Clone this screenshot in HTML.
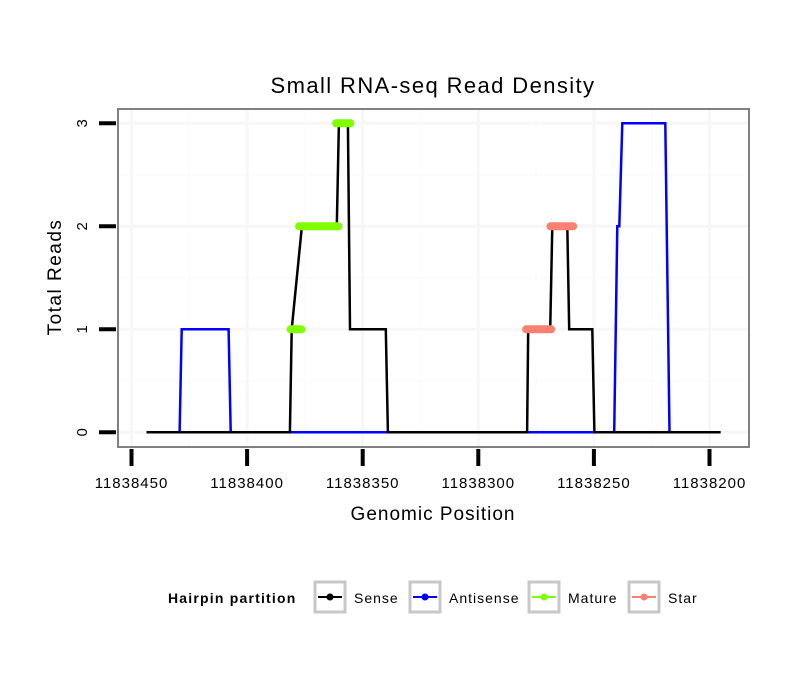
<!DOCTYPE html>
<html><head><meta charset="utf-8"><style>
html,body{margin:0;padding:0;background:#fff;}
svg{display:block;font-family:"Liberation Sans",sans-serif;}
</style></head><body>
<svg id="chart" width="810" height="690" viewBox="0 0 810 690">
<rect x="0" y="0" width="810" height="690" fill="#fff"/>
<text x="433" y="93" font-size="22" letter-spacing="1.4" text-anchor="middle" fill="#000">Small RNA-seq Read Density</text>
<g id="grid"></g>
<g id="series"></g>
<rect x="118" y="109" width="631" height="338" fill="none" stroke="#808080" stroke-width="2"/>
<g id="axes"></g>
<text x="433" y="520" font-size="19" letter-spacing="1" text-anchor="middle">Genomic Position</text>
<text transform="translate(61,277) rotate(-90)" font-size="19" letter-spacing="1.5" text-anchor="middle">Total Reads</text>
<g font-size="14" letter-spacing="1">
<text x="168" y="603" font-weight="bold" letter-spacing="1.2">Hairpin partition</text>
<g><rect x="315" y="582" width="30" height="30" fill="#fff" stroke="#c8c8c8" stroke-width="3"/><line x1="318" y1="597" x2="342" y2="597" stroke="#000" stroke-width="2"/><circle cx="330" cy="597" r="3.5" fill="#000"/><text x="354" y="603">Sense</text></g>
<g><rect x="410" y="582" width="30" height="30" fill="#fff" stroke="#c8c8c8" stroke-width="3"/><line x1="413" y1="597" x2="437" y2="597" stroke="#0000ff" stroke-width="2"/><circle cx="425" cy="597" r="3.5" fill="#0000ff"/><text x="449" y="603">Antisense</text></g>
<g><rect x="529" y="582" width="30" height="30" fill="#fff" stroke="#c8c8c8" stroke-width="3"/><line x1="532" y1="597" x2="556" y2="597" stroke="#7fff00" stroke-width="2"/><circle cx="544" cy="597" r="3.5" fill="#7fff00"/><text x="568" y="603">Mature</text></g>
<g><rect x="629" y="582" width="30" height="30" fill="#fff" stroke="#c8c8c8" stroke-width="3"/><line x1="632" y1="597" x2="656" y2="597" stroke="#fa8072" stroke-width="2"/><circle cx="644" cy="597" r="3.5" fill="#fa8072"/><text x="668" y="603">Star</text></g>
</g>
</svg>
<script>
const xTicks = [11838450, 11838400, 11838350, 11838300, 11838250, 11838200];
const yTicks = [0, 1, 2, 3];
const senseX = [11838443.5, 11838381.5, 11838380.7, 11838376.3, 11838361.2, 11838360.3, 11838356.4, 11838355.5, 11838340, 11838339.1, 11838278.9, 11838278.4, 11838268.9, 11838268, 11838261.5, 11838260.7, 11838250.7, 11838249.8, 11838195.2];
const senseY = [0, 0, 1, 2, 2, 3, 3, 1, 1, 0, 0, 1, 1, 2, 2, 1, 1, 0, 0];
const antiX = [11838443.5, 11838429.2, 11838428.3, 11838408, 11838407.1, 11838241.2, 11838239.9, 11838239, 11838237.7, 11838219.1, 11838217.3, 11838195.2];
const antiY = [0, 0, 1, 1, 0, 0, 2, 2, 3, 3, 0, 0];
const matureStart = [11838381.2, 11838377.5, 11838361.5];
const matureEnd = [11838376.5, 11838360.5, 11838355.3];
const matureY = [1, 2, 3];
const starStart = [11838279.3, 11838268.8];
const starEnd = [11838268.5, 11838259];
const starY = [1, 2];

const NS = "http://www.w3.org/2000/svg";
const X0 = 11838450, X1 = 11838200, PX0 = 131.5, PX1 = 709.5;
function sx(v){ return PX0 + (v - X0) / (X1 - X0) * (PX1 - PX0); }
function sy(v){ return 432.3 - v * (432.3 - 123.3) / 3; }
function mk(tag, attrs, parent){ const e = document.createElementNS(NS, tag); for (const k in attrs) e.setAttribute(k, attrs[k]); parent.appendChild(e); return e; }

const grid = document.getElementById('grid');
const axes = document.getElementById('axes');
const series = document.getElementById('series');
for (let i = 0; i < yTicks.length - 1; i++) {
  const l = mk('line', {x1:119, x2:748, y1:sy(yTicks[i]+0.5), y2:sy(yTicks[i]+0.5), stroke:'#fcfcfc', 'stroke-width':2}, grid);
  
  
}
for (let i = 0; i < xTicks.length - 1; i++) {
  const l = mk('line', {y1:110, y2:446, x1:sx(xTicks[i]-25), x2:sx(xTicks[i]-25), stroke:'#fcfcfc', 'stroke-width':2}, grid);
  
  
}
yTicks.forEach(v => {
  const l = mk('line', {x1:119, x2:748, y1:sy(v), y2:sy(v), stroke:'#f7f7f7', 'stroke-width':3}, grid);
  
  
  const t = mk('line', {x1:99, x2:116, y1:sy(v), y2:sy(v), stroke:'#000', 'stroke-width':4}, axes);
  
  
  const tx = mk('text', {transform:`translate(87,${sy(v)}) rotate(-90)`, 'font-size':15, 'text-anchor':'middle'}, axes);
  tx.textContent = v;
  
  
});
xTicks.forEach(v => {
  if (sx(v) > 119 && sx(v) < 748) {
    const l = mk('line', {y1:110, y2:446, x1:sx(v), x2:sx(v), stroke:'#f7f7f7', 'stroke-width':3}, grid);
    
    
  }
  const t = mk('line', {y1:449, y2:466, x1:sx(v), x2:sx(v), stroke:'#000', 'stroke-width':4}, axes);
  
  
  const tx = mk('text', {x:sx(v), y:488, 'font-size':15, 'letter-spacing':1, 'text-anchor':'middle'}, axes);
  tx.textContent = v;
  
  
});
function pts(xs, ys){ return xs.map((x,i)=>sx(x).toFixed(1)+','+sy(ys[i]).toFixed(1)).join(' '); }
const anti = mk('polyline', {points:pts(antiX, antiY), fill:'none', stroke:'#0000ff', 'stroke-width':2.5}, series);


const sense = mk('polyline', {points:pts(senseX, senseY), fill:'none', stroke:'#000', 'stroke-width':2.5}, series);


matureStart.forEach((s,i) => {
  const l = mk('line', {x1:sx(s), x2:sx(matureEnd[i]), y1:sy(matureY[i]), y2:sy(matureY[i]), stroke:'#7fff00', 'stroke-width':8, 'stroke-linecap':'round'}, series);
  
  
});
starStart.forEach((s,i) => {
  const l = mk('line', {x1:sx(s), x2:sx(starEnd[i]), y1:sy(starY[i]), y2:sy(starY[i]), stroke:'#fa8072', 'stroke-width':8, 'stroke-linecap':'round'}, series);
  
  
});
</script>
</body></html>
